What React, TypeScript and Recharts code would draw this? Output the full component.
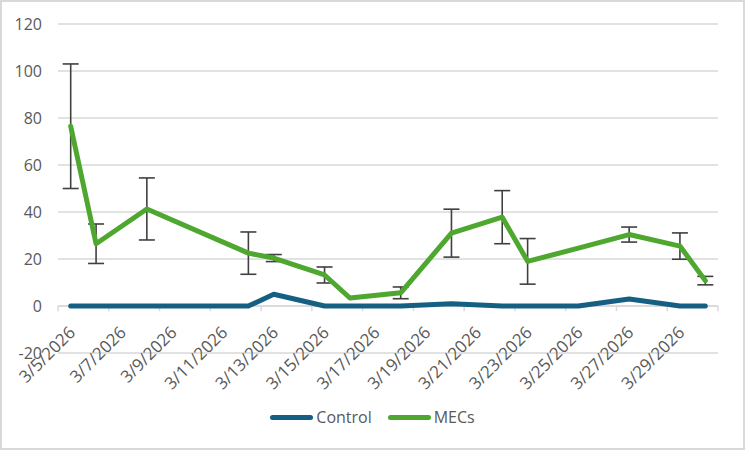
import React from "react";
import {
	LineChart,
	Line,
	XAxis,
	YAxis,
	CartesianGrid,
	ReferenceLine,
	ErrorBar,
} from "recharts";

const sampleDates = [
	"3/5/2026", "3/6/2026", "3/8/2026", "3/12/2026", "3/13/2026",
	"3/15/2026", "3/16/2026", "3/18/2026", "3/20/2026", "3/22/2026",
	"3/23/2026", "3/25/2026", "3/27/2026", "3/29/2026", "3/30/2026",
];
const controlValues = [0, 0, 0, 0, 5, 0, 0, 0, 1, 0, 0, 0, 3, 0, 0];
const mecsValues = [76.5, 26.5, 41.3, 22.5, 20.4, 13.2, 3.4, 5.6, 31, 37.8, 19, 24.6, 30.4, 25.5, 10.8];
const mecsSd = [26.5, 8.4, 13.2, 9, 1.5, 3.4, null, 2.5, 10.2, 11.3, 9.7, null, 3.2, 5.6, 1.8];

const xTickLabels = [
	"3/5/2026", "3/7/2026", "3/9/2026", "3/11/2026", "3/13/2026", "3/15/2026", "3/17/2026",
	"3/19/2026", "3/21/2026", "3/23/2026", "3/25/2026", "3/27/2026", "3/29/2026",
];
const yTicks = [-20, 0, 20, 40, 60, 80, 100, 120];

const CONTROL_COLOR = "#156082";
const MECS_COLOR = "#4ea72e";
const TEXT_COLOR = "#595959";
const GRID_COLOR = "#d9d9d9";
const FONT = "'Open Sans', 'Liberation Sans', sans-serif";

const W = 745;
const H = 450;
const margin = { top: 24, right: 27, bottom: 96, left: 0 };
const yAxisWidth = 58;
const xAxisHeight = 1;

// days counted from the first axis day (3/5/2026)
const toDate = (s: string) => {
	const [m, d, y] = s.split("/").map(Number);
	return new Date(y, m - 1, d);
};
const origin = toDate("3/5/2026").getTime();
const dayIndex = (s: string) => Math.round((toDate(s).getTime() - origin) / 86400000);

const data = sampleDates.map((d, i) => ({
	day: dayIndex(d),
	control: controlValues[i],
	mecs: mecsValues[i],
	sd: mecsSd[i] ?? undefined,
}));

const labelTicks = xTickLabels.map(dayIndex);
const labelByDay = new Map(xTickLabels.map((l) => [dayIndex(l), l]));
// axis runs over 26 day slots, tick marks sit on every second slot edge
const slotEdges = Array.from({ length: 14 }, (_, i) => i * 2 - 0.5);

const plotHeight = H - margin.top - margin.bottom - xAxisHeight;
const zeroOffset = (plotHeight * (0 - yTicks[0])) / (yTicks[yTicks.length - 1] - yTicks[0]);

// date labels hang from the zero line, not from the bottom of the plot
const DateTick = (props: any) => {
	const { x, y, payload } = props;
	const ty = y - zeroOffset + 23;
	const tx = x + 1;
	return (
		<text
			x={tx}
			y={ty}
			transform={`rotate(-45 ${tx} ${ty})`}
			textAnchor="end"
			dominantBaseline="central"
			fill={TEXT_COLOR}
			fontSize={17}
			fontFamily={FONT}
		>
			{labelByDay.get(payload.value)}
		</text>
	);
};

const series = [
	{ name: "Control", color: CONTROL_COLOR },
	{ name: "MECs", color: MECS_COLOR },
];

export default function App() {
	return (
		<div
			style={{
				position: "absolute",
				left: 0,
				top: 0,
				width: W,
				height: H,
				background: "#fff",
				boxShadow: `inset 0 0 0 2px ${GRID_COLOR}`,
				fontFamily: FONT,
			}}
		>
			<LineChart width={W} height={H} data={data} margin={margin}>
				<CartesianGrid vertical={false} stroke={GRID_COLOR} strokeWidth={1.3} />
				<XAxis
					type="number"
					dataKey="day"
					domain={[-0.5, 25.5]}
					ticks={labelTicks}
					interval={0}
					height={xAxisHeight}
					axisLine={false}
					tickLine={false}
					tickSize={0}
					tickMargin={0}
					tick={<DateTick />}
				/>
				<YAxis
					type="number"
					domain={[yTicks[0], yTicks[yTicks.length - 1]]}
					ticks={yTicks}
					interval={0}
					width={yAxisWidth}
					axisLine={false}
					tickLine={false}
					tickSize={0}
					tickMargin={16}
					tick={{ fill: TEXT_COLOR, fontSize: 16, fontFamily: FONT }}
				/>
				<ReferenceLine y={0} stroke={GRID_COLOR} strokeWidth={1.5} />
				{slotEdges.map((e) => (
					<ReferenceLine
						key={e}
						segment={[
							{ x: e, y: 0 },
							{ x: e, y: -2.2 },
						]}
						stroke={GRID_COLOR}
						strokeWidth={1.5}
					/>
				))}
				<Line
					type="linear"
					dataKey="control"
					name="Control"
					stroke={CONTROL_COLOR}
					strokeWidth={5}
					strokeLinecap="round"
					strokeLinejoin="round"
					dot={false}
					isAnimationActive={false}
				/>
				<Line
					type="linear"
					dataKey="mecs"
					name="MECs"
					stroke={MECS_COLOR}
					strokeWidth={5}
					strokeLinecap="round"
					strokeLinejoin="round"
					dot={false}
					isAnimationActive={false}
				>
					<ErrorBar
						dataKey="sd"
						direction="y"
						width={8}
						stroke="#404040"
						strokeWidth={1.6}
						isAnimationActive={false}
					/>
				</Line>
			</LineChart>
			<div
				style={{
					position: "absolute",
					left: 0,
					top: 406,
					width: W,
					display: "flex",
					justifyContent: "center",
					gap: 16,
					fontSize: 16,
					color: TEXT_COLOR,
				}}
			>
				{series.map((s) => (
					<div key={s.name} style={{ display: "flex", alignItems: "center", gap: 3 }}>
						<span
							style={{
								display: "inline-block",
								width: 43,
								height: 5,
								borderRadius: 3,
								background: s.color,
							}}
						/>
						<span>{s.name}</span>
					</div>
				))}
			</div>
		</div>
	);
}
